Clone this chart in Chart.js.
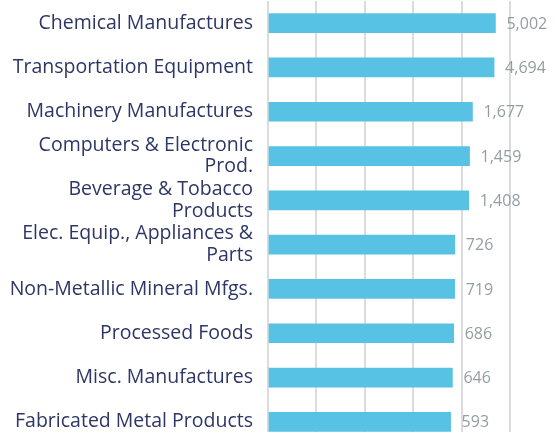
<!DOCTYPE html>
<html>
<head>
<meta charset="utf-8">
<script src="https://cdn.jsdelivr.net/npm/chart.js@4/dist/chart.umd.min.js"></script>
<style>
  html, body { margin: 0; padding: 0; background: #fff; overflow: hidden; }
  canvas { display: block; }
</style>
</head>
<body>
<canvas id="exportsChart" width="560" height="445"></canvas>
<script>
const categories = [
  'Chemical Manufactures',
  'Transportation Equipment',
  'Machinery Manufactures',
  ['Computers & Electronic', 'Prod.'],
  ['Beverage & Tobacco', 'Products'],
  ['Elec. Equip., Appliances &', 'Parts'],
  'Non-Metallic Mineral Mfgs.',
  'Processed Foods',
  'Misc. Manufactures',
  'Fabricated Metal Products'
];
const values = [5002, 4694, 1677, 1459, 1408, 726, 719, 686, 646, 593];
const gridTicks = [0.1, 1, 10, 100, 1000, 10000];

// draw the value next to the end of each bar
const valueLabels = {
  id: 'valueLabels',
  afterDatasetsDraw(chart) {
    const ctx = chart.ctx;
    const meta = chart.getDatasetMeta(0);
    ctx.save();
    ctx.font = '16px "Open Sans"';
    ctx.fillStyle = '#939ea3';
    ctx.textAlign = 'left';
    ctx.textBaseline = 'middle';
    meta.data.forEach((bar, i) => {
      ctx.fillText(values[i].toLocaleString('en-US'), bar.x + 11, bar.y + 1);
    });
    ctx.restore();
  }
};

const ctx = document.getElementById('exportsChart').getContext('2d');
new Chart(ctx, {
  type: 'bar',
  data: {
    labels: categories,
    datasets: [{
      data: values,
      backgroundColor: '#58c2e4',
      borderWidth: 0,
      barThickness: 19,
      base: 0.1
    }]
  },
  options: {
    indexAxis: 'y',
    responsive: false,
    animation: false,
    layout: { padding: { top: 1, right: 50, bottom: 1, left: 0 } },
    plugins: {
      legend: { display: false },
      tooltip: { enabled: false }
    },
    scales: {
      x: {
        type: 'logarithmic',
        min: 0.1,
        max: 10000,
        afterBuildTicks: scale => {
          scale.ticks = gridTicks.map(v => ({ value: v }));
        },
        afterFit: scale => { scale.height = 0; scale.paddingLeft = 0; scale.paddingRight = 0; },
        ticks: { display: false },
        grid: { color: '#dcdcdc', lineWidth: 2, drawTicks: false },
        border: { display: false }
      },
      y: {
        afterFit: scale => {
          scale.width = 268;
          scale.paddingTop = 0;
          scale.paddingBottom = 0;
        },
        grid: { display: false },
        border: { display: false },
        ticks: {
          autoSkip: false,
          color: '#2e3666',
          padding: 7,
          font: { family: '"Open Sans"', size: 19.5, lineHeight: 1.1 }
        }
      }
    }
  },
  plugins: [valueLabels]
});
</script>
</body>
</html>
